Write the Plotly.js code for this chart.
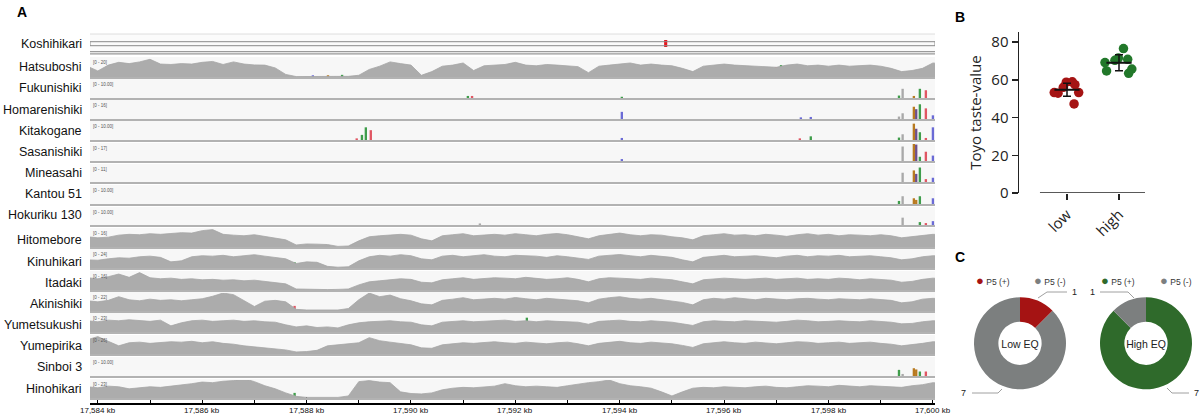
<!DOCTYPE html>
<html><head><meta charset="utf-8">
<script src="https://cdn.plot.ly/plotly-3.0.1.min.js"></script>
<style>html,body{margin:0;padding:0;background:#fff}#chart{width:1200px;height:414px}</style>
</head><body><div id="chart"></div>
<script>
// ---------------- DATA ----------------
const trackNames = ['Koshihikari','Hatsuboshi','Fukunishiki','Homarenishiki','Kitakogane','Sasanishiki','Mineasahi','Kantou 51','Hokuriku 130','Hitomebore','Kinuhikari','Itadaki','Akinishiki','Yumetsukushi','Yumepirika','Sinboi 3','Hinohikari'];
const trackScaleText = ['','[0 - 20]','[0 - 10.00]','[0 - 16]','[0 - 10.00]','[0 - 17]','[0 - 11]','[0 - 10.00]','[0 - 10.00]','[0 - 16]','[0 - 24]','[0 - 16]','[0 - 22]','[0 - 23]','[0 - 26]','[0 - 10.00]','[0 - 23]'];
const rulerTicksKb = [17584,17585,17586,17587,17588,17589,17590,17591,17592,17593,17594,17595,17596,17597,17598,17599,17600];
const rulerTickLabels = ['17,584 kb','','17,586 kb','','17,588 kb','','17,590 kb','','17,592 kb','','17,594 kb','','17,596 kb','','17,598 kb','','17,600 kb'];

// coverage sampling positions (kb)
const kbPos = [17583.8,17584.0,17584.2,17584.4,17584.6,17584.8,17585.0,17585.2,17585.4,17585.6,17585.8,17586.0,17586.2,17586.4,17586.6,17586.8,17587.0,17587.2,17587.4,17587.6,17587.8,17588.0,17588.2,17588.4,17588.6,17588.8,17589.0,17589.2,17589.4,17589.6,17589.8,17590.0,17590.2,17590.4,17590.6,17590.8,17591.0,17591.2,17591.4,17591.6,17591.8,17592.0,17592.2,17592.4,17592.6,17592.8,17593.0,17593.2,17593.4,17593.6,17593.8,17594.0,17594.2,17594.4,17594.6,17594.8,17595.0,17595.2,17595.4,17595.6,17595.8,17596.0,17596.2,17596.4,17596.6,17596.8,17597.0,17597.2,17597.4,17597.6,17597.8,17598.0,17598.2,17598.4,17598.6,17598.8,17599.0,17599.2,17599.4,17599.6,17599.8,17600.0,17600.2];

// coverage, % of each track's data range
const covHatsuboshi = [50,28,55,68,62,70,82,60,58,62, 60,68,72,58,70,60,56,55,42,12, 2,2,2,3,4,3,8,35,50,70, 62,55,8,25,50,55,65,30,52,55, 58,68,55,52,58,55,52,48,20,50, 55,60,65,55,60,55,52,40,25,50, 55,60,55,52,50,48,45,55,60,52, 55,50,55,50,52,55,50,40,25,30, 40,65,60];
const covHitomebore = [50,45,48,58,62,60,65,62,66,70, 68,80,85,62,58,55,60,52,45,35, 10,15,14,12,3,5,30,50,55,60, 62,58,40,30,55,60,65,55,60,62, 58,65,60,55,62,66,60,50,40,55, 62,68,60,55,60,58,50,45,35,55, 60,65,58,60,55,62,58,52,60,65, 58,62,55,60,58,55,60,55,45,50, 58,62,60];
const covKinuhikari = [40,38,45,50,48,55,58,52,30,35, 55,60,58,62,55,60,65,58,52,45, 22,30,28,8,4,6,35,55,62,58, 65,60,45,40,58,62,55,60,65,58, 55,62,60,58,52,60,55,50,42,58, 62,66,60,55,62,58,52,40,30,52, 58,62,55,58,60,55,50,58,62,55, 60,58,62,55,58,60,55,50,40,45, 55,60,58];
const covItadaki = [60,55,65,78,62,85,60,55,58,52, 55,50,52,48,50,45,48,42,38,30, 5,3,2,2,3,5,25,40,45,50, 55,52,38,35,50,55,60,52,55,60, 58,55,62,58,52,55,60,52,40,55, 60,58,55,52,58,55,50,40,30,50, 55,58,55,52,55,58,52,55,58,52, 55,52,58,55,50,55,52,48,38,42, 52,58,55];
const covAkinishiki = [50,45,52,70,55,50,58,52,55,50, 55,60,72,88,80,50,22,48,52,45, 8,5,4,3,5,12,55,88,70,78, 60,50,35,30,52,58,65,55,60,62, 58,66,60,55,62,58,55,50,40,58, 65,70,62,58,62,55,50,42,30,55, 62,58,65,60,55,62,58,55,60,62, 58,55,60,58,55,60,55,52,40,45, 58,62,60];
const covYumetsukushi = [55,50,58,55,60,55,52,58,30,45, 55,58,52,55,58,52,55,50,48,35, 25,30,22,25,20,35,45,50,52,55, 50,48,35,30,48,52,55,50,52,55, 58,52,55,50,55,52,50,48,38,52, 55,58,52,50,55,52,48,40,32,50, 55,52,50,55,52,50,48,52,58,55, 50,52,55,52,50,55,52,48,40,42, 50,55,52];
const covYumepirika = [70,85,62,40,55,58,52,55,60,58, 62,55,60,52,48,40,35,30,25,20, 10,12,18,40,45,50,55,80,65,58, 50,45,30,28,45,50,55,52,55,60, 55,52,58,55,50,55,58,50,40,52, 58,62,55,52,58,55,50,42,32,50, 55,60,55,52,58,55,50,55,60,58, 52,55,58,52,55,58,52,48,40,45, 52,60,58];
const covHinohikari = [55,50,58,55,45,50,55,52,58,62, 70,78,75,82,85,95,80,60,45,25, 8,3,3,2,3,10,80,85,78,75, 30,22,20,25,40,48,52,50,55,58, 70,60,55,58,55,52,60,68,75,80, 88,70,60,55,48,30,10,30,48,52, 50,55,52,50,55,58,52,50,55,60, 58,55,62,58,55,60,58,55,52,60, 65,75,70];

// allele bars: track, position (kb), height (% of track range), base
const snpTrack = ['Hatsuboshi','Hatsuboshi','Hatsuboshi','Hatsuboshi','Hatsuboshi','Hatsuboshi',
 'Fukunishiki','Fukunishiki','Fukunishiki','Fukunishiki','Fukunishiki','Fukunishiki','Fukunishiki','Fukunishiki',
 'Homarenishiki','Homarenishiki','Homarenishiki','Homarenishiki','Homarenishiki','Homarenishiki','Homarenishiki','Homarenishiki','Homarenishiki','Homarenishiki',
 'Kitakogane','Kitakogane','Kitakogane','Kitakogane','Kitakogane','Kitakogane','Kitakogane','Kitakogane','Kitakogane','Kitakogane','Kitakogane','Kitakogane','Kitakogane','Kitakogane',
 'Sasanishiki','Sasanishiki','Sasanishiki','Sasanishiki','Sasanishiki','Sasanishiki','Sasanishiki',
 'Mineasahi','Mineasahi','Mineasahi','Mineasahi','Mineasahi','Mineasahi',
 'Kantou 51','Kantou 51','Kantou 51','Kantou 51','Kantou 51','Kantou 51',
 'Hokuriku 130','Hokuriku 130','Hokuriku 130','Hokuriku 130','Hokuriku 130',
 'Hitomebore','Hitomebore','Hitomebore',
 'Kinuhikari','Kinuhikari','Kinuhikari',
 'Itadaki','Itadaki',
 'Akinishiki','Akinishiki','Akinishiki','Akinishiki',
 'Yumetsukushi','Yumetsukushi',
 'Yumepirika','Yumepirika','Yumepirika',
 'Sinboi 3','Sinboi 3','Sinboi 3','Sinboi 3','Sinboi 3','Sinboi 3',
 'Hinohikari','Hinohikari','Hinohikari','Hinohikari','Hinohikari','Hinohikari'];
const snpKb = [17588.12,17588.41,17588.68,17596.88,17596.99,17597.09,
 17591.09,17591.17,17594.04,17599.35,17599.42,17599.635,17599.75,17599.865,
 17594.04,17597.47,17597.66,17599.35,17599.42,17599.635,17599.68,17599.75,17599.865,17600.0,
 17588.96,17589.06,17589.135,17589.23,17594.04,17597.45,17597.66,17599.35,17599.42,17599.635,17599.68,17599.75,17599.865,17600.0,
 17594.04,17599.42,17599.635,17599.68,17599.75,17599.865,17600.0,
 17599.42,17599.635,17599.68,17599.75,17599.865,17600.0,
 17599.35,17599.42,17599.635,17599.68,17599.75,17600.0,
 17591.32,17599.42,17599.75,17599.865,17600.0,
 17590.55,17592.28,17596.97,
 17587.77,17592.28,17596.97,
 17594.06,17596.9,
 17587.05,17587.77,17594.06,17596.93,
 17592.22,17596.97,
 17585.63,17587.77,17596.97,
 17599.35,17599.42,17599.635,17599.68,17599.75,17599.865,
 17585.63,17587.77,17590.5,17596.55,17596.65,17596.75];
const snpPct = [8,8,10,35,45,55,
 10,10,6,12,45,10,45,38,
 35,8,10,12,28,60,48,72,52,18,
 8,25,62,48,10,8,18,12,28,80,55,38,10,62,
 10,75,95,85,22,48,28,
 48,60,42,75,15,22,
 15,38,28,20,38,28,
 8,38,15,10,20,
 10,30,25,
 28,45,20,
 45,30,
 20,25,35,40,
 70,35,
 30,10,30,
 30,10,38,32,22,22,
 10,25,15,40,45,20];
const snpBase = ['C','G','A','G','T','A',
 'A','T','A','A','N','G','A','T',
 'C','C','C','N','N','G','P','A','T','C',
 'T','A','A','T','C','T','A','A','N','G','P','A','T','C',
 'C','N','G','P','A','T','C',
 'N','G','P','A','T','C',
 'A','N','G','G','A','C',
 'N','N','A','T','C',
 'T','A','T',
 'A','A','T',
 'G','T',
 'G','T','G','T',
 'A','T',
 'T','T','T',
 'A','N','G','G','A','T',
 'A','A','C','T','T','A'];
const koshiFeatureKb = [17583.85, 17600.04];
const koshiVariantKb = [17594.88];

// Panel B
const tasteGroups = ['low','high'];
const lowVals = [58.7,57.4,58.9,56.0,53.2,52.9,53.2,47.2];
const highVals = [70.8,70.3,76.5,69.1,65.7,64.7,63.4,71.5];
const groupMean = [54.7,69.0];
const groupSD = [3.5,4.2];

// Panel C
const pieLabels = ['P5 (+)','P5 (-)'];
const lowEQCounts = [1,7];
const highEQCounts = [7,1];

// ---------------- STYLE / GEOMETRY ----------------
const W = 1200, H = 414;
const fx = p => p / W, fy = p => 1 - p / H;
const trackTop = [34,57,79,100,121,143,164,185,207,228,249,271,292,313,335,357,379];
const trackBot = [55,77,98,119,140,161,182,204,225,247,268,290,311,332,354,376,398];
const labelY  = [44,67,88,110,131,152,173,194,215,240,262,283,304,325,346,367,389];
const XL = 90, XR = 935;
const baseColor = {A:'#3f9d4b', C:'#6b6bd6', G:'#b87a20', T:'#e05663', N:'#a9a9a9', P:'#6e4f8a'};
const covByTrack = {Hatsuboshi:covHatsuboshi, Hitomebore:covHitomebore, Kinuhikari:covKinuhikari, Itadaki:covItadaki, Akinishiki:covAkinishiki, Yumetsukushi:covYumetsukushi, Yumepirika:covYumepirika, Hinohikari:covHinohikari};
const RED = '#a51313', GREEN = '#22782a', GRAY = '#7c7f7f', PGREEN = '#2f6a2b';
const fontA = 'Arial, "Liberation Sans", sans-serif';
const fontB = '"Open Sans", "Noto Sans", sans-serif';

const traces = [];
const layout = {
  width: W, height: H, margin: {l:0, r:0, t:0, b:0},
  paper_bgcolor: '#fff', plot_bgcolor: 'rgba(0,0,0,0)',
  showlegend: false, barmode: 'overlay',
  shapes: [], annotations: [],
  xaxis: {domain:[fx(XL), fx(XR)], range:[17583.85, 17600.04], anchor:'free', position: fy(404),
    tickvals: rulerTicksKb, showticklabels:false, ticks:'inside', ticklen:6, tickwidth:1, tickcolor:'#000',
    showline:true, linecolor:'#000', linewidth:2, showgrid:false, zeroline:false, fixedrange:true}
};
rulerTicksKb.forEach((kb, k) => {
  if (rulerTickLabels[k]) layout.annotations.push({xref:'x', yref:'paper', x:kb, y:fy(410), xanchor:'center', yanchor:'middle',
    text:rulerTickLabels[k], showarrow:false, font:{family:fontA, size:8, color:'#111'}});
});

trackNames.forEach((name, i) => {
  const ax = i === 0 ? 'y' : 'y' + (i + 1);
  const key = i === 0 ? 'yaxis' : 'yaxis' + (i + 1);
  if (i === 0) {
    layout[key] = {domain:[fy(47), fy(40)], range:[0,1], visible:false, fixedrange:true, anchor:'x'};
  } else {
    layout[key] = {domain:[fy(trackBot[i]), fy(trackTop[i] + 1)], range:[0,88], visible:false, fixedrange:true, anchor:'x'};
  }
  layout.shapes.push({type:'rect', xref:'paper', yref:'paper', x0:fx(XL), x1:fx(XR), y0:fy(trackBot[i]), y1:fy(trackTop[i]),
    fillcolor: i === 0 ? '#fbfbfb' : '#f7f7f7', line:{width:0}, layer:'below'});
  if (i > 0) {
    layout.shapes.push({type:'line', xref:'paper', yref:'paper', x0:fx(XL), x1:fx(XR), y0:fy(trackBot[i] + 1), y1:fy(trackBot[i] + 1),
      line:{color:'#b2b2b2', width:2}});
  }
  layout.annotations.push({xref:'paper', yref:'paper', x:fx(84), y:fy(labelY[i]), xanchor:'right', yanchor:'middle',
    text:name, showarrow:false, font:{family:fontA, size:12.5, color:'#111'}});
  if (trackScaleText[i]) {
    layout.annotations.push({xref:'paper', yref:'paper', x:fx(91), y:fy(trackTop[i] + 1), xanchor:'left', yanchor:'top',
      text:trackScaleText[i], showarrow:false, font:{family:fontA, size:4.5, color:'#555'}});
  }
  if (covByTrack[name]) {
    traces.push({type:'scatter', mode:'lines', x:kbPos, y:covByTrack[name], xaxis:'x', yaxis:ax,
      fill:'tozeroy', fillcolor:'#acacac', line:{color:'#a6a6a6', width:0.8}, hoverinfo:'skip'});
  }
  const idx = snpTrack.map((t, k) => t === name ? k : -1).filter(k => k >= 0);
  if (idx.length) {
    traces.push({type:'bar', x:idx.map(k => snpKb[k]), y:idx.map(k => snpPct[k]), base:0, width:0.045,
      marker:{color:idx.map(k => baseColor[snpBase[k]]), line:{width:0}}, xaxis:'x', yaxis:ax, hoverinfo:'skip'});
  }
});

// Koshihikari reference feature + variant
layout.shapes.push({type:'rect', xref:'x', yref:'paper', x0:koshiFeatureKb[0], x1:koshiFeatureKb[1], y0:fy(45.7), y1:fy(41.7),
  line:{color:'#8a8a8a', width:1}, fillcolor:'rgba(0,0,0,0)'});
layout.shapes.push({type:'line', xref:'paper', yref:'paper', x0:fx(XL), x1:fx(XR), y0:fy(51.6), y1:fy(51.6), line:{color:'#9a9a9a', width:1.2}});
layout.shapes.push({type:'line', xref:'paper', yref:'paper', x0:fx(XL), x1:fx(XR), y0:fy(53.8), y1:fy(53.8), line:{color:'#9a9a9a', width:1.2}});
layout.shapes.push({type:'line', xref:'paper', yref:'paper', x0:fx(XL), x1:fx(XR), y0:fy(34), y1:fy(34), line:{color:'#dedede', width:1}});
traces.push({type:'bar', x:koshiVariantKb, y:[1], base:0, width:0.06, marker:{color:'#e8141c'}, xaxis:'x', yaxis:'y', hoverinfo:'skip'});

// ---------------- Panel B ----------------
layout.xaxis2 = {domain:[fx(1019), fx(1145)], type:'category', categoryorder:'array', categoryarray:tasteGroups,
  range:[-0.923, 1.5], anchor:'y18', showline:false, showgrid:false, zeroline:false, ticks:'outside', ticklen:6, tickwidth:1.5,
  tickcolor:'#222', tickangle:-45, tickfont:{family:fontB, size:15, color:'#222'}, fixedrange:true};
layout.yaxis18 = {domain:[fy(193), fy(32)], range:[0, 85.3], anchor:'x2', showline:true, linewidth:1.5, linecolor:'#222',
  ticks:'outside', ticklen:6, tickwidth:1.5, tickcolor:'#222', tickvals:[0,20,40,60,80], showgrid:false, zeroline:false,
  tickfont:{family:fontB, size:15, color:'#222'}, title:{text:'Toyo taste-value', font:{family:fontB, size:15, color:'#222'}, standoff:6}, fixedrange:true};
layout.shapes.push({type:'line', xref:'x2', yref:'y18', x0:-0.52, x1:1.5, y0:0, y1:0, line:{color:'#222', width:1.5}});
traces.push({type:'box', x:lowVals.map(() => tasteGroups[0]), y:lowVals, xaxis:'x2', yaxis:'y18', boxpoints:'all', jitter:1, pointpos:0, width:0.75,
  fillcolor:'rgba(0,0,0,0)', line:{width:0, color:'rgba(0,0,0,0)'}, whiskerwidth:0, marker:{color:RED, size:9.5}, hoverinfo:'y'});
traces.push({type:'box', x:highVals.map(() => tasteGroups[1]), y:highVals, xaxis:'x2', yaxis:'y18', boxpoints:'all', jitter:1, pointpos:0, width:0.75,
  fillcolor:'rgba(0,0,0,0)', line:{width:0, color:'rgba(0,0,0,0)'}, whiskerwidth:0, marker:{color:GREEN, size:9.5}, hoverinfo:'y'});
traces.push({type:'scatter', mode:'markers', x:tasteGroups, y:groupMean, xaxis:'x2', yaxis:'y18',
  marker:{symbol:'line-ew', size:18, color:'#111', line:{width:2, color:'#111'}},
  error_y:{type:'data', array:groupSD, visible:true, color:'#111', thickness:1.5, width:4}, hoverinfo:'skip'});

// ---------------- Panel C ----------------
traces.push({type:'pie', values:lowEQCounts, labels:pieLabels, sort:false, direction:'clockwise', rotation:0, hole:0.47,
  marker:{colors:[RED, GRAY], line:{width:0}}, textinfo:'none', hoverinfo:'label+value',
  domain:{x:[fx(974), fx(1066)], y:[fy(389.3), fy(297.3)]},
  title:{text:'Low EQ', position:'middle center', font:{family:fontA, size:10.5, color:'#222'}}});
traces.push({type:'pie', values:highEQCounts, labels:pieLabels, sort:false, direction:'clockwise', rotation:0, hole:0.47,
  marker:{colors:[PGREEN, GRAY], line:{width:0}}, textinfo:'none', hoverinfo:'label+value',
  domain:{x:[fx(1100), fx(1192)], y:[fy(389.3), fy(297.3)]},
  title:{text:'High EQ', position:'middle center', font:{family:fontA, size:10.5, color:'#222'}}});

const pathPx = pts => pts.map((p, k) => (k ? 'L' : 'M') + fx(p[0]) + ',' + fy(p[1])).join(' ');
[[[1038,298],[1047,292],[1067,292]], [[972,393],[998,393],[1002,389]], [[1100,292],[1128,292],[1134,298]], [[1167,388],[1172,393],[1189,393]]]
  .forEach(p => layout.shapes.push({type:'path', xref:'paper', yref:'paper', path:pathPx(p), line:{color:'#a0a0a0', width:1}}));
[[1070,292,'left',lowEQCounts[0]], [968,393,'right',lowEQCounts[1]], [1097,292,'right',highEQCounts[1]], [1196,393,'center',highEQCounts[0]]]
  .forEach(a => layout.annotations.push({xref:'paper', yref:'paper', x:fx(a[0]), y:fy(a[1]), xanchor:a[2], yanchor:'middle',
    text:String(a[3]), showarrow:false, font:{family:fontA, size:9, color:'#222'}}));
[[974,RED,pieLabels[0]], [1032,GRAY,pieLabels[1]], [1099,PGREEN,pieLabels[0]], [1158,GRAY,pieLabels[1]]]
  .forEach(a => layout.annotations.push({xref:'paper', yref:'paper', x:fx(a[0]), y:fy(280), xanchor:'left', yanchor:'middle',
    text:'<span style="color:' + a[1] + ';font-size:13px">●</span> ' + a[2], showarrow:false, font:{family:fontA, size:8.5, color:'#333'}}));

// panel letters
[['A',22,12],['B',960,17],['C',960,257]].forEach(a => layout.annotations.push({xref:'paper', yref:'paper', x:fx(a[1]), y:fy(a[2]),
  xanchor:'center', yanchor:'middle', text:'<b>' + a[0] + '</b>', showarrow:false, font:{family:fontA, size:14, color:'#000'}}));

Plotly.newPlot('chart', traces, layout, {staticPlot:true, displayModeBar:false});
</script></body></html>
